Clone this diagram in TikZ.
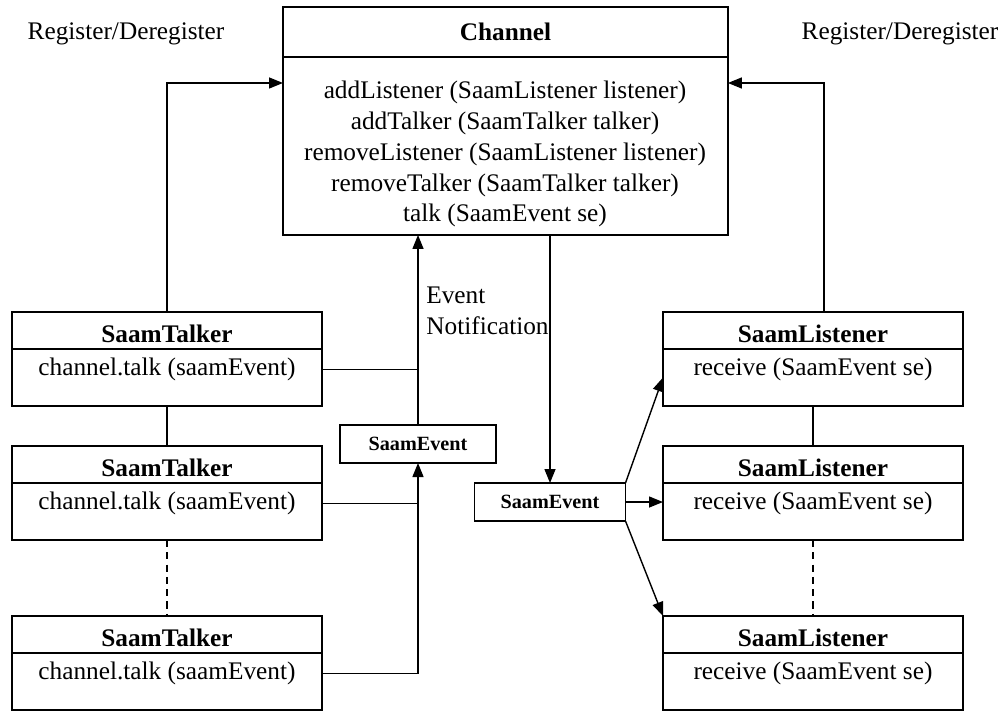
\documentclass[tikz,border=0pt]{standalone}
\usepackage{fontspec}
\setmainfont{Liberation Serif}
\usetikzlibrary{positioning,arrows.meta}

\tikzset{
  box/.style={draw, rectangle, line width=0.9pt, outer sep=0pt, inner sep=2pt},
  title/.style={box, font=\bfseries, text height=14pt, text depth=0pt, minimum height=0.74cm},
  body/.style={box, text height=10pt, text depth=12.8pt, minimum height=1.14cm},
  evt/.style={box, font=\bfseries\fontsize{11.5}{13}\selectfont, minimum height=0.76cm},
  arr/.style={-{Triangle[length=0.28cm,width=0.22cm]}, line width=0.8pt},
  link/.style={line width=0.8pt}
}

\begin{document}
\fontsize{14.4}{17.5}\selectfont
\begin{tikzpicture}[x=0.02cm, y=-0.02cm]
    \useasboundingbox (0,0) rectangle (1000,711);

    % Channel
    \node (chan) [box, font=\bfseries, minimum width=8.9cm, minimum height=1cm, anchor=north west] at (283,7) {Channel};
    \node (chanBody) [box, minimum width=8.9cm, minimum height=3.56cm, below=0pt of chan] {};
    \node (chanOps) [align=center, inner sep=0pt, anchor=north] at (505,81) {addListener (SaamListener listener)\\addTalker (SaamTalker talker)\\removeListener (SaamListener listener)\\removeTalker (SaamTalker talker)\\talk (SaamEvent se)};

    % Labels
    \node (regL) [anchor=base] at (126,39) {Register/Deregister};
    \node (regR) [anchor=base] at (900,39) {Register/Deregister};
    \node (notif) [align=left, inner sep=0pt, anchor=north west] at (426,287) {Event\\Notification};

    % Talkers
    \node (talkA) [title, minimum width=6.2cm, anchor=north west] at (12,312) {SaamTalker};
    \node (talkAbody) [body, minimum width=6.2cm, below=0pt of talkA] {channel.talk (saamEvent)};
    \node (talkB) [title, minimum width=6.2cm, anchor=north west] at (12,446) {SaamTalker};
    \node (talkBbody) [body, minimum width=6.2cm, below=0pt of talkB] {channel.talk (saamEvent)};
    \node (talkC) [title, minimum width=6.2cm, anchor=north west] at (12,616) {SaamTalker};
    \node (talkCbody) [body, minimum width=6.2cm, below=0pt of talkC] {channel.talk (saamEvent)};

    % Listeners
    \node (lisA) [title, minimum width=6cm, anchor=north west] at (663,312) {SaamListener};
    \node (lisAbody) [body, minimum width=6cm, below=0pt of lisA] {receive (SaamEvent se)};
    \node (lisB) [title, minimum width=6cm, anchor=north west] at (663,446) {SaamListener};
    \node (lisBbody) [body, minimum width=6cm, below=0pt of lisB] {receive (SaamEvent se)};
    \node (lisC) [title, minimum width=6cm, anchor=north west] at (663,616) {SaamListener};
    \node (lisCbody) [body, minimum width=6cm, below=0pt of lisC] {receive (SaamEvent se)};

    % Events
    \node (evtL) [evt, minimum width=3.12cm] at (418,444) {SaamEvent};
    \node (evtR) [evt, minimum width=3.02cm] at (550,502) {SaamEvent};

    % Edges
    \draw[arr] (talkA.north) |- ([yshift=-0.52cm]chanBody.north west);
    \draw[arr] ([xshift=0.22cm]lisA.north) |- ([yshift=-0.52cm]chanBody.north east);
    \draw[link] (talkAbody.south) -- (talkB.north);
    \draw[link, dash pattern=on 4pt off 3pt] (talkBbody.south) -- (talkC.north);
    \draw[link] (lisAbody.south) -- (lisB.north);
    \draw[link, dash pattern=on 4pt off 3pt] (lisBbody.south) -- (lisC.north);

    \draw[arr] (evtL.north) -- (chanBody.south -| evtL.north);
    \draw[link] (talkAbody.mid east) -- (talkAbody.mid east -| evtL.north);
    \draw[arr] (talkCbody.mid east) -| (evtL.south);
    \draw[link] (talkBbody.mid east) -- (talkBbody.mid east -| evtL.south);

    \draw[arr] (chanBody.south -| evtR.north) -- (evtR.north);
    \draw[arr] (evtR.north east) -- (lisAbody.west);
    \draw[arr] (evtR.east) -- (evtR.east -| lisBbody.west);
    \draw[arr] (evtR.south east) -- (lisC.north west);

\end{tikzpicture}
\end{document}
